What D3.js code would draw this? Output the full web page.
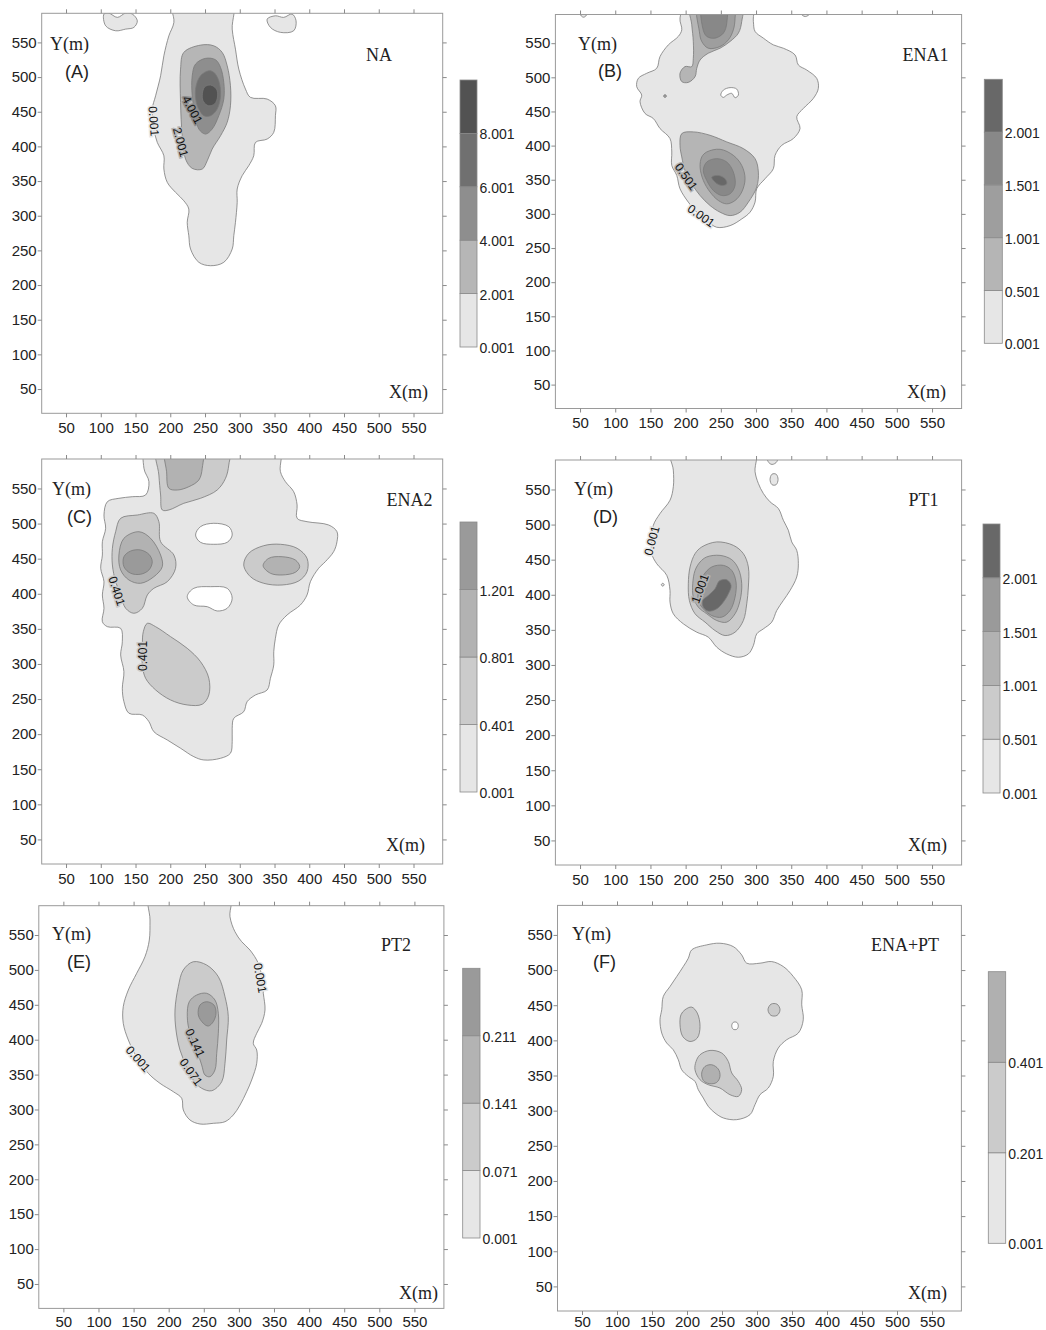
<!DOCTYPE html>
<html>
<head>
<meta charset="utf-8">
<script src="https://cdn.jsdelivr.net/npm/d3@7"></script>
<style>
  body { margin: 0; background: #fff; }
  svg { display: block; }
  .tick text { font-family: "Liberation Sans", Arial, sans-serif; font-size: 15px; fill: #222; }
  .tick line { stroke: #8a8a8a; }
  .serif { font-family: "Liberation Serif", "Times New Roman", serif; font-size: 18px; fill: #222; }
  .tag { font-family: "Liberation Sans", Arial, sans-serif; font-size: 18px; fill: #222; }
  .cbar text { font-family: "Liberation Sans", Arial, sans-serif; font-size: 14px; fill: #222; }
  .clab { font-family: "Liberation Sans", Arial, sans-serif; font-size: 12px; fill: #111; }
</style>
</head>
<body>
<svg id="chart" width="1046" height="1330"></svg>
<script>
// Axes communs (mètres)
const domainM = [15, 592];
const tickVals = [50, 100, 150, 200, 250, 300, 350, 400, 450, 500, 550];

// ---------- (A) NA ----------
const naLevels = ["0.001", "2.001", "4.001", "6.001", "8.001"];
const naShades = ["#e6e6e6", "#b6b6b6", "#8e8e8e", "#707070", "#525252"];
const naContours = [
  { lv: 0, pts: [[203,612],[205.2,578.9],[198,559.6],[190.8,530.8],[186.1,501.9],[178.9,473],[174.1,453.9],[176.4,425],[181.3,405.8],[190.8,386.5],[190.8,367.3],[195.7,348.1],[207.6,333.7],[219.5,321.6],[226.7,309.6],[224.4,290.5],[226.7,271.1],[229.2,251.9],[241.1,232.8],[257.9,227.9],[277,232.8],[289.1,251.9],[291.4,271.1],[293.8,290.5],[296.3,319.3],[296.3,338.5],[303.4,357.7],[312.9,372.1],[320.1,386.5],[322.6,405.8],[339.4,410.6],[348.9,420.3],[351.3,444.2],[351.3,458.6],[339.4,468.3],[315.4,470.7],[308.2,482.7],[298.6,511.5],[293.8,540.3],[289.1,569.2],[289.1,612]] },
  { lv: 0, pts: [[104.6,590.9],[107,574],[121.4,566.8],[135.8,569.2],[147.7,571.7],[152.6,581.2],[145.4,590.9],[135.8,592.3],[123.9,586.1],[111.4,592.3]] },
  { lv: 0, pts: [[339.4,583.6],[344.1,571.7],[358.5,564.5],[377.6,566.8],[381,581.2],[375.3,590.9],[363.2,586.1],[351.3,588.4]] },
  { lv: 1, pts: [[243.5,546.1],[219.5,535.6],[214.8,511.5],[214.8,463.5],[217.2,415.3],[222,381.7],[231.6,368.3],[246,367.3],[253.2,379.3],[260.3,396.2],[272.3,415.3],[281.9,434.7],[286.6,458.6],[286.6,487.5],[281.9,516.3],[274.7,535.6],[262.6,545.1]] },
  { lv: 2, pts: [[250.7,527],[236.4,518.8],[231.6,501.9],[231.6,473],[236.4,444.2],[241.1,425],[250.7,417.8],[260.3,425],[269.8,444.2],[277,468.3],[277,492.4],[272.3,514],[265.1,525]] },
  { lv: 3, pts: [[255.5,509.1],[243.5,501.9],[236.4,482.7],[238.8,458.6],[248.3,444.2],[257.9,444.2],[267.5,453.9],[272.3,473],[269.8,494.7],[262.6,506.8]] },
  { lv: 4, pts: [[246,473],[249.3,485.6],[257.9,488.5],[266.5,482.7],[268,471.4],[263.8,461.3],[255.1,458.6],[247.9,464.4]] }
];
const naLabels = [
  { x: 176, y: 436.5, a: 86, t: "0.001", lv: 0 },
  { x: 214.8, y: 406.2, a: 75, t: "2.001", lv: 1 },
  { x: 231.6, y: 452.7, a: 62, t: "4.001", lv: 2 }
];

// ---------- (B) ENA1 ----------
const ena1Levels = ["0.001", "0.501", "1.001", "1.501", "2.001"];
const ena1Shades = ["#e6e6e6", "#b5b5b5", "#9e9e9e", "#888888", "#686868"];
const ena1Contours = [
  { lv: 0, pts: [[203.8,612],[192,586.8],[194.5,569.6],[189.6,559.9],[175.4,547.5],[163.6,530.4],[158.9,513.2],[144.7,505.9],[132.8,498.5],[130.5,486.3],[137.6,474],[135.2,464.3],[142.3,447.1],[154.1,439.7],[163.6,425],[177.8,410.3],[180.3,390.7],[180.3,371],[187.4,356.3],[192,336.8],[203.8,317.2],[215.8,302.5],[230,290.1],[244.2,280.4],[263.1,282.8],[279.7,292.6],[291.5,302.5],[298.6,317.2],[301,336.8],[312.8,351.5],[324.6,366.2],[327,385.7],[336.5,400.4],[353,410.3],[362.5,425],[357.8,442.2],[367.2,454.4],[381.4,469.1],[388.5,483.8],[386.2,498.5],[372,510.7],[360.1,518.1],[355.4,532.8],[338.8,542.6],[324.6,547.5],[310.4,557.4],[298.6,567.2],[296.2,581.9],[293.9,612]] },
  { lv: 0, pts: [[48,612],[49,594],[55,588],[61,594],[62,612]] },
  { lv: 0, pts: [[362,612],[363,594],[370,589],[377,594],[379,612]] },
  { lv: -1, pts: [[249.9,474],[253.6,481.3],[263.1,484.9],[272.6,482.8],[274.9,474],[270.2,470.1],[265.5,476.5],[258.4,474],[253.6,470.6]] },
  { lv: 2, pts: [[168.6,472.5],[170.7,474.7],[172.8,472.5],[170.7,470.3]] },
  { lv: 1, pts: [[206.3,612],[208.7,576.9],[210.9,552.5],[210.9,527.9],[208.7,515.7],[199.1,515.7],[192,505.9],[194.5,493.7],[203.8,492.6],[213.4,501],[215.8,513.2],[220.5,525.4],[232.2,535.3],[248.9,542.6],[263.1,552.5],[274.9,564.7],[279.7,581.9],[279.7,612]] },
  { lv: 2, pts: [[218,612],[219.5,567.2],[222.9,552.5],[232.2,542.6],[248.9,545.1],[260.7,554.9],[267.8,569.6],[270.2,586.8],[268.8,612]] },
  { lv: 3, pts: [[224.3,612],[224.3,572.1],[230,559.9],[241.8,557.4],[253.6,564.7],[258.4,579.4],[256,612]] },
  { lv: 1, pts: [[194.5,417.6],[210.9,420.1],[234.7,415.1],[258.4,405.4],[282,395.6],[298.6,380.9],[303.3,361.3],[301,339.3],[289.1,317.2],[277.3,302.5],[263.1,297.5],[248.9,302.5],[234.7,312.2],[220.5,326.9],[208.7,344.1],[199.1,363.7],[194.5,383.4],[192,400.4]] },
  { lv: 2, pts: [[230,390.7],[248.9,394.6],[267.8,385.7],[279.7,371],[284.4,351.5],[279.7,332],[270.2,319.6],[258.4,314.7],[246.5,319.6],[234.7,332],[225.1,349],[220.5,368.7],[222.9,383.4]] },
  { lv: 3, pts: [[230,376],[244.2,380.9],[258.4,376],[267.8,361.3],[270.2,341.6],[263.1,329.4],[251.3,326.9],[239.3,334.3],[230,349],[225.1,363.7]] },
  { lv: 4, pts: [[237.1,353.9],[246.5,356.3],[256,351.5],[258.4,344.1],[251.3,341.6],[241.8,346.5]] }
];
const ena1Labels = [
  { x: 200.6, y: 354.4, a: 55, t: "0.501", lv: 1 },
  { x: 221.9, y: 297, a: 35, t: "0.001", lv: 0 }
];

// ---------- (C) ENA2 ----------
const ena2Levels = ["0.001", "0.401", "0.801", "1.201"];
const ena2Shades = ["#e6e6e6", "#cbcbcb", "#b2b2b2", "#9a9a9a"];
const ena2Contours = [
  { lv: 0, pts: [[167,612],[162.1,578.8],[169.3,559.7],[164.5,540.7],[145.4,538.3],[126.1,536],[109.5,531.2],[104.6,512.2],[107,493.3],[102.3,474.2],[102.3,455.2],[99.9,436.3],[104.6,417.2],[102.3,398.3],[104.6,379.3],[102.3,360.2],[109.5,353.1],[128.6,350.8],[131,331.7],[128.6,312.8],[133.3,289],[131,265.4],[133.3,246.3],[140.5,229.8],[159.8,227.3],[169.3,217.8],[176.4,203.5],[195.7,191.7],[214.8,179.9],[233.9,167.9],[248.3,163.2],[272.3,165.6],[286.6,172.8],[289.1,189.3],[289.1,208.4],[291.4,222.6],[305.7,232],[310.6,246.3],[322.6,255.8],[339.4,262.9],[344.1,279.6],[348.9,298.6],[348.9,317.5],[351.3,336.6],[356,355.5],[368.1,369.8],[387.2,384],[396.8,398.3],[401.6,417.2],[413.5,436.3],[423.1,445.7],[435.1,460],[439.9,474.2],[439.9,488.4],[427.9,498],[396.8,502.7],[382.5,507.5],[382.5,526.5],[377.6,545.4],[365.7,559.7],[358.5,573.9],[356,612]] },
  { lv: -1, pts: [[236.4,483.7],[243.5,495.6],[262.6,500.4],[284.2,495.6],[289.1,483.7],[281.9,473.3],[262.6,470.5],[243.5,473.3]] },
  { lv: -1, pts: [[224.4,395.8],[233.9,407.8],[257.9,410.1],[281.9,407.8],[289.1,393.6],[281.9,379.3],[267.5,375.5],[253.2,381.6],[233.9,384]] },
  { lv: 1, pts: [[181.3,612],[183.6,569.2],[186.1,540.7],[188.5,519.4],[198,519.4],[219.5,528.9],[243.5,536],[267.5,547.8],[279.5,564.5],[284.2,583.5],[284.2,612]] },
  { lv: 2, pts: [[193.2,612],[194.7,573.9],[198,550.3],[210.1,547.8],[226.7,552.5],[241.1,562.1],[246,578.8],[245,612]] },
  { lv: 1, pts: [[128.6,507.5],[152.6,512.2],[176.4,514.6],[183.6,502.7],[186.1,474.2],[205.2,455.2],[207.6,436.3],[195.7,417.2],[176.4,407.8],[167,398.3],[159.8,379.3],[147.7,372.2],[135.8,379.3],[128.6,398.3],[121.4,417.2],[116.7,441],[116.7,464.8],[121.4,488.4]] },
  { lv: 2, pts: [[126.1,455.2],[133.3,479],[154.9,488.4],[171.7,479],[186.1,455.2],[188.5,438.6],[176.4,424.3],[157.3,414.9],[140.5,419.6],[128.6,433.9]] },
  { lv: 3, pts: [[133.3,452.8],[143,460.9],[157.3,462.4],[169.3,456.2],[174.1,445.7],[169.3,433.9],[157.3,427.8],[143,429.2],[133.3,438.6]] },
  { lv: 1, pts: [[305.7,441],[312.9,457.7],[334.5,468.5],[358.5,470.5],[382.5,464.8],[396.8,450.5],[396.8,431.5],[384.8,418.2],[360.9,412.5],[334.5,414.9],[315.4,424.3]] },
  { lv: 2, pts: [[333.6,440],[341.7,450.5],[360.9,452.8],[380,448.1],[386.2,438.6],[380,430.6],[360.9,426.8],[344.1,429.2]] },
  { lv: 1, pts: [[167,357.9],[178.9,353.1],[200.4,338.9],[224.4,322.3],[243.5,303.3],[255.5,279.6],[255.5,255.8],[246,242.6],[224.4,241.6],[200.4,248.7],[178.9,263],[164.5,279.6],[159.8,298.6],[159.8,327.1],[161.2,345.9]] }
];
const ena2Labels = [
  { x: 122.8, y: 404, a: 72, t: "0.401", lv: 1 },
  { x: 160.2, y: 311.4, a: -90, t: "0.401", lv: 1 }
];

// ---------- (D) PT1 ----------
const pt1Levels = ["0.001", "0.501", "1.001", "1.501", "2.001"];
const pt1Shades = ["#e6e6e6", "#cbcbcb", "#b2b2b2", "#9a9a9a", "#686868"];
const pt1Contours = [
  { lv: 0, pts: [[177.8,612],[182.5,577.6],[182.5,553.9],[177.8,534.7],[163.6,515.7],[154.1,499],[151.8,477.6],[151.8,458.6],[158.9,444.3],[173.2,427.6],[177.8,406.1],[177.8,389.6],[182.5,372.9],[196.7,358.6],[215.8,346.7],[232.2,339.6],[244.2,325.3],[258.4,315.7],[274.9,311],[289.1,315.7],[296.2,327.6],[301,344.3],[310.4,351.4],[322.3,361],[329.4,377.6],[338.8,391.9],[348.3,406.1],[357.8,425.3],[360.1,444.3],[357.8,463.3],[350.7,475.3],[345.9,491.9],[338.8,506.1],[331.7,522.9],[319.9,532.4],[310.4,544.3],[303.3,558.6],[298.6,575.3],[298.6,612]] },
  { lv: 0, pts: [[165.4,414.3],[167.5,416.4],[169.6,414.3],[167.5,412.2]] },
  { lv: 0, pts: [[315.2,612],[317,590],[322.7,585.7],[329.8,590],[329.8,612]] },
  { lv: 0, pts: [[319.9,564.3],[322.7,571.8],[328.5,571.8],[331.3,564.3],[328.5,556.8],[322.7,556.8]] },
  { lv: 1, pts: [[222.9,468.1],[244.2,475.3],[267.8,470.4],[282,458.6],[289.1,439.6],[289.1,411],[286.8,387.1],[282,363.3],[270.2,346.7],[256,341.9],[241.8,349],[227.6,361],[213.4,372.9],[205.3,391.9],[203.8,415.7],[206.3,439.6],[213.4,458.6]] },
  { lv: 2, pts: [[230,453.9],[248.9,456.1],[265.5,450],[274.9,437.1],[279.7,415.7],[277.3,391.9],[270.2,372.9],[258.4,361],[244.2,363.3],[230,372.9],[218,382.4],[210.9,396.7],[210.1,415.7],[213.4,434.7],[220.5,446.7]] },
  { lv: 3, pts: [[237.1,439.6],[253.6,441.9],[265.5,434.7],[271.6,418.1],[270.2,396.7],[263.1,377.6],[251.3,368.1],[237.1,370.4],[225.1,380],[218,391.9],[219,411],[225.1,427.6]] },
  { lv: 4, pts: [[248.9,420.4],[258.4,421.4],[264.5,413.3],[260.7,401.4],[253.6,389.6],[244.2,380],[232.2,376.7],[225.1,382.4],[224.3,391.9],[232.2,399],[241.8,408.6],[246.5,418.1]] }
];
const pt1Labels = [
  { x: 152.3, y: 477.1, a: -75, t: "0.001", lv: 0 },
  { x: 220.5, y: 408.6, a: -70, t: "1.001", lv: 2 }
];

// ---------- (E) PT2 ----------
const pt2Levels = ["0.001", "0.071", "0.141", "0.211"];
const pt2Shades = ["#e6e6e6", "#cbcbcb", "#b3b3b3", "#9a9a9a"];
const pt2Contours = [
  { lv: 0, pts: [[173.4,612],[173.4,571.5],[172.4,542.8],[166.2,518.9],[154.4,495.1],[142.5,471.2],[135.3,447.3],[135.3,423.5],[142.5,399.6],[154.4,375.6],[170.9,351.9],[187.6,337.5],[206.6,325.5],[218.5,316.1],[220.8,299.3],[230.3,285],[244.6,279.2],[263.5,280.2],[280.2,282.5],[292,292.1],[301.6,306.4],[311.1,325.5],[318.2,342.3],[325.4,366.2],[325.4,385.2],[320.5,394.8],[325.4,409.2],[332.5,423.5],[337.2,442.6],[334.8,466.5],[332.5,490.3],[327.6,509.5],[315.8,528.5],[304,540.4],[294.4,554.7],[287.3,576.2],[287.3,612]] },
  { lv: 1, pts: [[235,511.7],[254.1,507],[270.7,490.3],[280.2,461.6],[284.9,433],[282.6,399.6],[280.2,366.2],[275.5,339.8],[261.3,326.9],[247,330.4],[235,342.3],[225.6,361.3],[216.1,385.2],[210.4,413.9],[209,442.6],[213.7,475.9],[220.8,499.9]] },
  { lv: 2, pts: [[239.9,464],[254.1,466.5],[265.9,456.9],[270.7,437.8],[270.7,409.2],[268.4,380.5],[265.9,356.6],[258.8,347],[251.7,349.4],[247,363.8],[239.9,385.2],[230.3,409.2],[226.5,433],[229.3,454.4]] },
  { lv: 3, pts: [[244.6,449.7],[254.1,454.4],[264.5,449.7],[267.4,437.8],[263.5,425.8],[256.4,419.6],[249.3,423.5],[242.2,435.4]] }
];
const pt2Labels = [
  { x: 330, y: 488.4, a: 80, t: "0.001", lv: 0 },
  { x: 156.3, y: 372.3, a: 48, t: "0.001", lv: 0 },
  { x: 237.5, y: 395.3, a: 65, t: "0.141", lv: 2 },
  { x: 231.8, y: 353.7, a: 55, t: "0.071", lv: 1 }
];

// ---------- (F) ENA+PT ----------
const enaptLevels = ["0.001", "0.201", "0.401"];
const enaptShades = ["#e6e6e6", "#cbcbcb", "#b0b0b0"];
const enaptContours = [
  { lv: 0, pts: [[206.7,528.7],[228.1,535.8],[247.1,538.2],[266.1,533.4],[278.1,521.6],[285.3,509.8],[304.3,509.8],[321,512.1],[337.6,505],[351.9,490.8],[363.9,471.9],[363.9,450.6],[366.1,429.3],[359,410.4],[342.4,400.9],[330.4,389.1],[323.3,370],[323.3,348.7],[316.1,332.2],[304.3,322.7],[297.1,308.5],[290,294.3],[271,287.2],[251.9,289.6],[240,296.7],[230.4,306.1],[223.3,318],[216.1,329.8],[211.4,341.6],[201.9,348.7],[192.4,358.2],[187.6,372.4],[180.4,386.6],[171,396.2],[163.9,410.4],[161.4,429.3],[163.9,443.5],[166.1,462.4],[175.7,476.6],[185.3,490.8],[194.7,505],[201.9,516.9]] },
  { lv: -1, pts: [[263.9,420.7],[266,425.6],[271.2,425.6],[273.3,420.7],[271.2,415.8],[266,415.8]] },
  { lv: 1, pts: [[197.1,443.5],[206.7,447.3],[214.7,438.8],[218.6,419.7],[214.7,403.3],[204.3,398.4],[193.9,405.5],[190,422.2],[191.4,436.4]] },
  { lv: 1, pts: [[315.7,443.5],[320,451.5],[328.6,451.5],[332.9,443.5],[328.6,435.5],[320,435.5]] },
  { lv: 1, pts: [[218.6,379.5],[232.9,385.7],[249.6,382],[259,370],[263.9,353.6],[273.3,341.6],[278.1,329.8],[273.3,320.3],[261.4,322.7],[247.1,332.2],[230.4,336.9],[218.6,344],[211.4,358.2],[212.9,370]] },
  { lv: 2, pts: [[221,353.6],[225.7,362.9],[235.3,365.3],[244.7,359.2],[247.1,348.7],[242.4,340.2],[231.9,338.4],[223.3,343]] }
];
const enaptLabels = [];

// ---------- Mise en page des 6 panneaux ----------
const panels = [
  { tag: "(A)", title: "NA", L: 41.7, R: 442.7, T: 13.3, B: 413.3, pad: 5,
    bar: [460, 17, 80, 347], levels: naLevels, shades: naShades, contours: naContours, labels: naLabels,
    ym: [50, 50], tg: [65, 78], tt: [379, 61], xm: [428, 398] },
  { tag: "(B)", title: "ENA1", L: 555.4, R: 961.6, T: 14.5, B: 408.5, pad: 5,
    bar: [984.3, 18, 79.3, 343.3], levels: ena1Levels, shades: ena1Shades, contours: ena1Contours, labels: ena1Labels,
    ym: [578, 50], tg: [598, 77], tt: [925.5, 61], xm: [946, 398] },
  { tag: "(C)", title: "ENA2", L: 41.7, R: 442.7, T: 459, B: 864, pad: 5,
    bar: [460, 17, 522, 792], levels: ena2Levels, shades: ena2Shades, contours: ena2Contours, labels: ena2Labels,
    ym: [52, 495], tg: [67, 523], tt: [409.5, 506], xm: [425, 851] },
  { tag: "(D)", title: "PT1", L: 555.4, R: 961.6, T: 460, B: 865, pad: 5,
    bar: [983, 17, 524, 793], levels: pt1Levels, shades: pt1Shades, contours: pt1Contours, labels: pt1Labels,
    ym: [574, 495], tg: [593, 523], tt: [923.5, 506], xm: [947, 851] },
  { tag: "(E)", title: "PT2", L: 38.8, R: 443.9, T: 905.7, B: 1308.4, pad: 4,
    bar: [462.7, 17.3, 968.3, 1238], levels: pt2Levels, shades: pt2Shades, contours: pt2Contours, labels: pt2Labels,
    ym: [52, 940], tg: [67, 968], tt: [396, 951], xm: [438, 1299] },
  { tag: "(F)", title: "ENA+PT", L: 557.5, R: 961.4, T: 905.4, B: 1311, pad: 1,
    bar: [988.3, 17.4, 971.7, 1243.3], levels: enaptLevels, shades: enaptShades, contours: enaptContours, labels: enaptLabels,
    ym: [572, 940], tg: [593, 968], tt: [905, 951], xm: [947, 1299] }
];

const svg = d3.select("#chart");
const defs = svg.append("defs");

panels.forEach((p, i) => {
  const x = d3.scaleLinear().domain(domainM).range([p.L, p.R]);
  const y = d3.scaleLinear().domain(domainM).range([p.B, p.T]);
  const g = svg.append("g");

  defs.append("clipPath").attr("id", "clip" + i)
    .append("rect").attr("x", p.L).attr("y", p.T)
    .attr("width", p.R - p.L).attr("height", p.B - p.T);

  // Contours remplis
  const line = d3.line()
    .x(d => x(d[0])).y(d => y(d[1]))
    .curve(d3.curveCatmullRomClosed.alpha(0.5));

  const plot = g.append("g").attr("clip-path", `url(#clip${i})`);
  plot.selectAll("path.contour")
    .data(p.contours)
    .join("path")
    .attr("class", "contour")
    .attr("d", d => line(d.pts))
    .attr("fill", d => (d.lv < 0 ? "#fff" : p.shades[d.lv]))
    .attr("stroke", "#7a7a7a")
    .attr("stroke-width", 0.8);

  // Étiquettes des isolignes
  plot.selectAll("text.clab")
    .data(p.labels)
    .join("text")
    .attr("class", "clab")
    .attr("transform", d => `translate(${x(d.x)},${y(d.y)}) rotate(${d.a})`)
    .attr("text-anchor", "middle")
    .attr("dominant-baseline", "central")
    .attr("stroke", d => p.shades[d.lv])
    .attr("stroke-width", 3)
    .attr("paint-order", "stroke")
    .text(d => d.t);

  // Cadre
  g.append("rect")
    .attr("x", p.L).attr("y", p.T)
    .attr("width", p.R - p.L).attr("height", p.B - p.T)
    .attr("fill", "none").attr("stroke", "#9a9a9a").attr("stroke-width", 1);

  // Axes
  const ax = (gen, tr, labels, pad) => {
    const a = g.append("g").attr("transform", tr)
      .call(gen.tickValues(tickVals).tickSize(4).tickSizeOuter(0).tickPadding(pad)
        .tickFormat(labels ? d3.format("d") : ""));
    a.select(".domain").remove();
    return a;
  };
  ax(d3.axisBottom(x), `translate(0,${p.B})`, true, p.pad);
  ax(d3.axisLeft(y), `translate(${p.L},0)`, true, 1);
  ax(d3.axisTop(x), `translate(0,${p.T})`, false, 1);
  ax(d3.axisRight(y), `translate(${p.R},0)`, false, 1);

  // Textes
  g.append("text").attr("class", "serif").attr("x", p.ym[0]).attr("y", p.ym[1]).text("Y(m)");
  g.append("text").attr("class", "tag").attr("x", p.tg[0]).attr("y", p.tg[1]).text(p.tag);
  g.append("text").attr("class", "serif").attr("x", p.tt[0]).attr("y", p.tt[1])
    .attr("text-anchor", "middle").text(p.title);
  g.append("text").attr("class", "serif").attr("x", p.xm[0]).attr("y", p.xm[1])
    .attr("text-anchor", "end").text("X(m)");

  // Barre de couleurs
  const [bx, bw, btop, bbot] = p.bar;
  const n = p.levels.length;
  const cb = d3.scaleLinear().domain([0, n]).range([bbot, btop]);
  const bar = g.append("g").attr("class", "cbar");
  bar.selectAll("rect")
    .data(p.shades)
    .join("rect")
    .attr("x", bx).attr("width", bw)
    .attr("y", (d, k) => cb(k + 1))
    .attr("height", (d, k) => cb(k) - cb(k + 1))
    .attr("fill", d => d)
    .attr("stroke", "#8a8a8a").attr("stroke-width", 0.8);
  bar.selectAll("text")
    .data(p.levels)
    .join("text")
    .attr("x", bx + bw + 2.5)
    .attr("y", (d, k) => cb(k) + 1)
    .attr("dominant-baseline", "central")
    .text(d => d);
});
</script>
</body>
</html>
